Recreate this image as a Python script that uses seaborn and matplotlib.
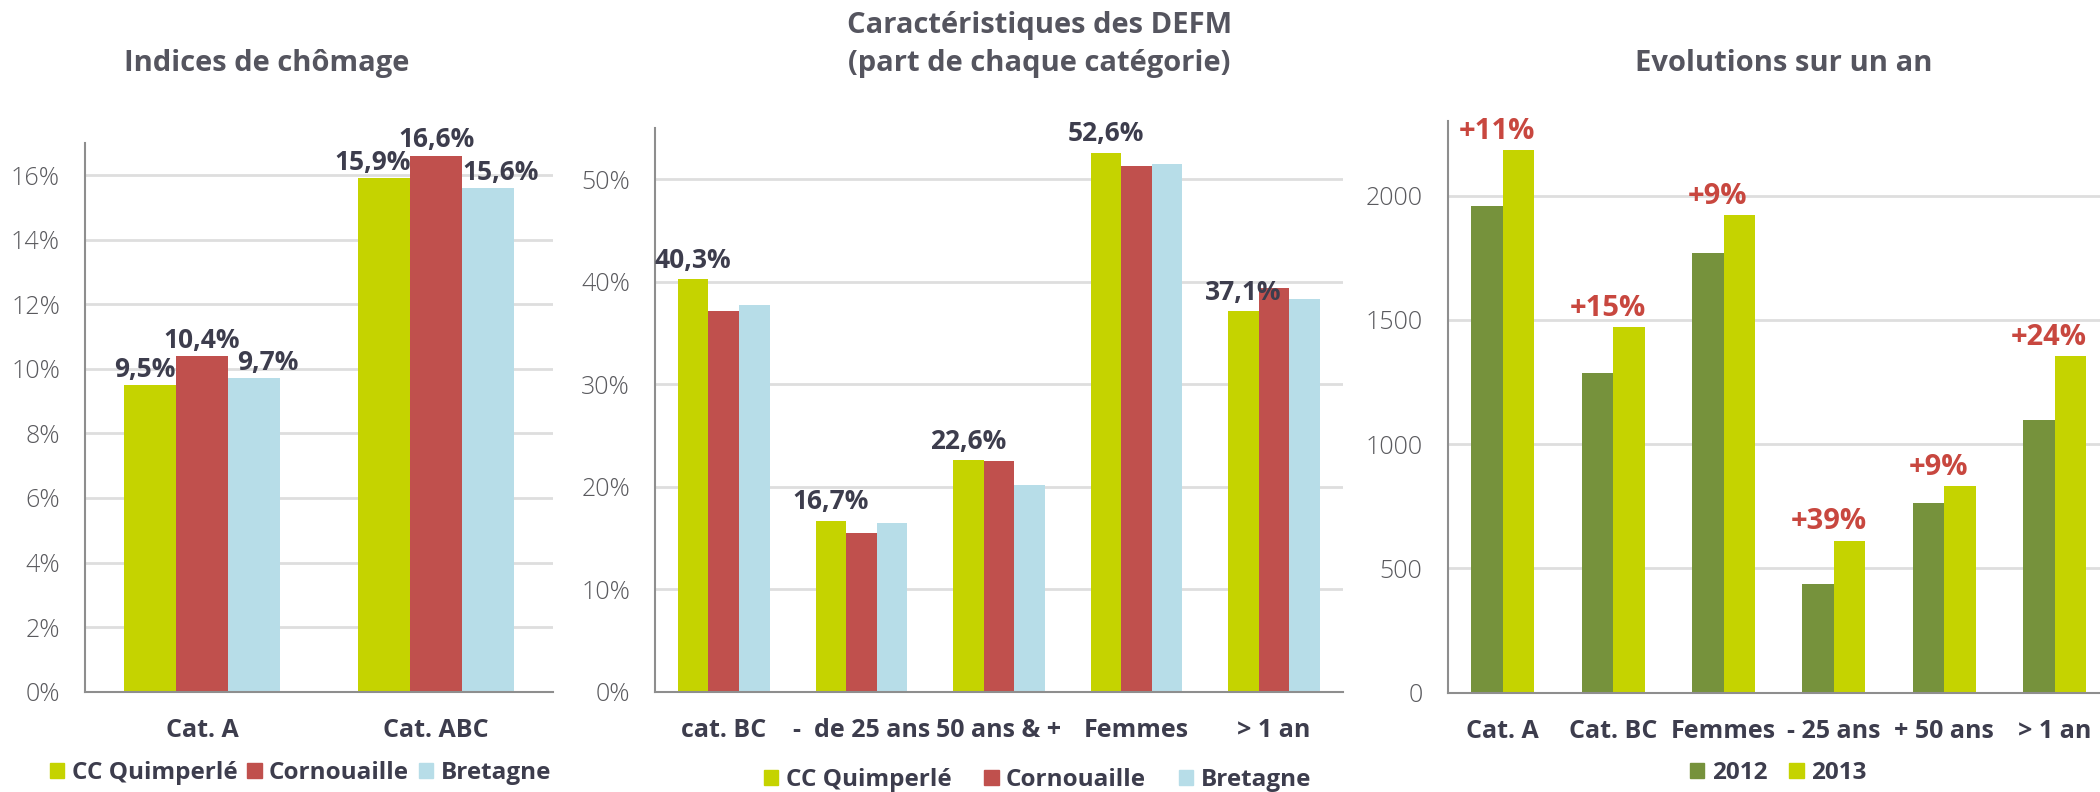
import numpy as np
import pandas as pd
import matplotlib
matplotlib.use('Agg')
import matplotlib.pyplot as plt
from matplotlib.patches import Patch
import seaborn as sns

# Indices de chômage
cats_1 = ['Cat. A', 'Cat. ABC']
series_1 = ['CC Quimperlé', 'Cornouaille', 'Bretagne']
quimperle_1 = [9.5, 15.9]
cornouaille_1 = [10.4, 16.6]
bretagne_1 = [9.7, 15.6]

# Caractéristiques des DEFM (part de chaque catégorie)
cats_2 = ['cat. BC', '-  de 25 ans', '50 ans & +', 'Femmes', '> 1 an']
quimperle_2 = [40.3, 16.7, 22.6, 52.6, 37.1]
cornouaille_2 = [37.1, 15.5, 22.5, 51.3, 39.4]
bretagne_2 = [37.7, 16.5, 20.2, 51.5, 38.3]

# Evolutions sur un an
cats_3 = ['Cat. A', 'Cat. BC', 'Femmes', '- 25 ans', '+ 50 ans', '> 1 an']
years_3 = ['2012', '2013']
dem_2012 = [1960, 1287, 1768, 437, 762, 1097]
dem_2013 = [2182, 1472, 1922, 612, 830, 1355]
evol_3 = ['+11%', '+15%', '+9%', '+39%', '+9%', '+24%']

lime = '#c5d300'
red = '#c0504d'
blue = '#b7dde8'
olive = '#76923c'
dark = '#3d3d4d'
tick_col = '#5a5a5e'
grid_col = '#dedede'
spine_col = '#8e8e8e'
evol_col = '#c8473f'

sns.set_style('white')
plt.rcParams['font.family'] = ['Open Sans', 'DejaVu Sans']

fig = plt.figure(figsize=(21, 7.92), dpi=100)
ax1 = fig.add_axes([0.0405, 0.1266, 0.2229, 0.6932])
ax2 = fig.add_axes([0.3119, 0.1266, 0.3276, 0.7118])
ax3 = fig.add_axes([0.6893, 0.1254, 0.3154, 0.7218])


def long_df(cats, series, values):
    return pd.DataFrame({
        'cat': cats * len(series),
        'serie': np.repeat(series, len(cats)),
        'val': np.concatenate(values),
    })


def style_axes(ax, cats, yticks, ylim, fmt):
    n = len(cats)
    ax.set_xlim(-0.5, n - 0.5)
    ax.set_ylim(*ylim)
    ax.set_xlabel('')
    ax.set_ylabel('')
    ax.set_xticks(np.arange(n + 1) - 0.5)
    ax.set_xticklabels([])
    ax.set_xticks(range(n), minor=True)
    ax.set_xticklabels(cats, minor=True, fontsize=18, fontweight='bold', color=dark)
    ax.tick_params(axis='x', which='major', length=9, width=1.5, color=spine_col)
    ax.tick_params(axis='x', which='minor', length=0, pad=19)
    ax.set_yticks(yticks)
    ax.set_yticklabels([fmt(v) for v in yticks], fontsize=18, fontweight='light',
                       color=tick_col)
    ax.tick_params(axis='y', length=6, width=1.5, color=spine_col, pad=12)
    ax.yaxis.grid(True, color=grid_col, linewidth=2)
    ax.set_axisbelow(True)
    for s in ['top', 'right']:
        ax.spines[s].set_visible(False)
    for s in ['left', 'bottom']:
        ax.spines[s].set_color(spine_col)
        ax.spines[s].set_linewidth(1.5)


# panel 1
df1 = long_df(cats_1, series_1, [quimperle_1, cornouaille_1, bretagne_1])
sns.barplot(data=df1, x='cat', y='val', hue='serie', order=cats_1, hue_order=series_1,
            palette=[lime, red, blue], width=2/3, saturation=1, linewidth=0,
            errorbar=None, legend=False, ax=ax1)
style_axes(ax1, cats_1, range(0, 17, 2), (0, 17), lambda v: f'{v}%')
dx_1 = [[-4, -8], [0, 0], [10, 9]]
for k, cont in enumerate(ax1.containers):
    for j, bar in enumerate(cont):
        h = bar.get_height()
        ax1.annotate(f'{h:.1f}%'.replace('.', ','), (bar.get_x() + bar.get_width() / 2, h),
                     xytext=(dx_1[k][j], 6), textcoords='offset points', ha='center',
                     va='baseline', fontsize=19, fontweight='bold', color=dark)

# panel 2
df2 = long_df(cats_2, series_1, [quimperle_2, cornouaille_2, bretagne_2])
sns.barplot(data=df2, x='cat', y='val', hue='serie', order=cats_2, hue_order=series_1,
            palette=[lime, red, blue], width=2/3, saturation=1, linewidth=0,
            errorbar=None, legend=False, ax=ax2)
style_axes(ax2, cats_2, range(0, 51, 10), (0, 55), lambda v: f'{v}%')
for bar in ax2.containers[0]:
    h = bar.get_height()
    ax2.annotate(f'{h:.1f}%'.replace('.', ','), (bar.get_x() + bar.get_width() / 2, h),
                 xytext=(0, 8), textcoords='offset points', ha='center',
                 va='baseline', fontsize=19, fontweight='bold', color=dark)

# panel 3
df3 = long_df(cats_3, years_3, [dem_2012, dem_2013])
sns.barplot(data=df3, x='cat', y='val', hue='serie', order=cats_3, hue_order=years_3,
            palette=[olive, lime], width=0.57, saturation=1, linewidth=0,
            errorbar=None, legend=False, ax=ax3)
style_axes(ax3, cats_3, range(0, 2001, 500), (0, 2300), lambda v: f'{v}')
for i, txt in enumerate(evol_3):
    top = max(dem_2012[i], dem_2013[i])
    ax3.annotate(txt, (i, top), xytext=(-4, 8), textcoords='offset points', ha='center',
                 va='baseline', fontsize=21, fontweight='bold', color=evol_col)

# titres
title_kw = dict(ha='center', va='center', fontsize=21, fontweight='bold', color='#55555f')
fig.text(0.127, 0.920, 'Indices de chômage', **title_kw)
fig.text(0.495, 0.968, 'Caractéristiques des DEFM', **title_kw)
fig.text(0.495, 0.920, '(part de chaque catégorie)', **title_kw)
fig.text(0.8495, 0.920, 'Evolutions sur un an', **title_kw)

# légendes
leg_kw = dict(loc='center', frameon=False, handlelength=0.6, handleheight=0.6,
              handletextpad=0.3, prop={'size': 17.5, 'weight': 'bold'},
              labelcolor=dark, borderaxespad=0)
h1 = [Patch(color=c) for c in [lime, red, blue]]
fig.legend(h1, series_1, ncol=3, columnspacing=0.4,
           bbox_to_anchor=(0.143, 0.024), **leg_kw)
fig.legend(h1, series_1, ncol=3, columnspacing=1.35,
           bbox_to_anchor=(0.494, 0.015), **leg_kw)
h3 = [Patch(color=c) for c in [olive, lime]]
fig.legend(h3, years_3, ncol=2, columnspacing=0.9,
           bbox_to_anchor=(0.8467, 0.024), **leg_kw)

fig.savefig('out.png', dpi=100, facecolor='white')
